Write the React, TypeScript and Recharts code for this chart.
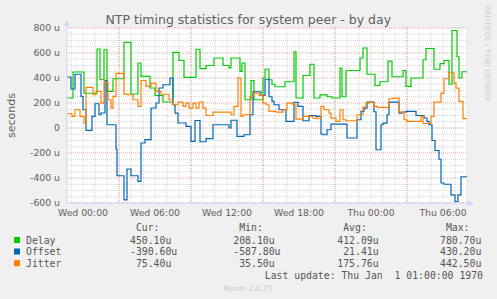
import React from "react"
import { CartesianGrid, Line, LineChart, XAxis, YAxis } from "recharts"

// time in minutes from Wed 00:00, values in microseconds
const delayTimes = [-80, -50, 5, 70, 85, 105, 120, 150, 205, 240, 275, 290, 335, 360, 400, 450, 480, 505, 565, 585, 615, 655, 700, 730, 740, 785, 795, 810, 840, 855, 900, 910, 930, 945, 960, 1010, 1055, 1065, 1100, 1135, 1155, 1185, 1220, 1245, 1285, 1295, 1315, 1385, 1400, 1420, 1460, 1485, 1525, 1545, 1600, 1615, 1640, 1700, 1715, 1755, 1785, 1805, 1830, 1845, 1870, 1880, 1895, 1920]
const delayValues = [240, 448, 278, 632, 386, 626, 293, 394, 685, 272, 520, 413, 320, 260, 208, 605, 540, 405, 630, 475, 500, 560, 500, 480, 560, 453, 520, 226, 380, 226, 400, 470, 386, 350, 330, 370, 610, 240, 420, 510, 240, 265, 250, 240, 480, 250, 460, 560, 640, 430, 340, 370, 535, 410, 460, 333, 400, 546, 636, 470, 515, 540, 350, 780, 570, 400, 450, 450]

const offsetTimes = [-80, -60, -40, -10, 0, 15, 45, 60, 80, 90, 110, 120, 165, 170, 205, 220, 240, 275, 290, 310, 340, 365, 380, 400, 435, 450, 460, 475, 515, 540, 560, 585, 615, 650, 730, 740, 770, 805, 835, 850, 890, 910, 930, 945, 955, 980, 1015, 1055, 1075, 1100, 1130, 1165, 1190, 1200, 1220, 1240, 1320, 1370, 1390, 1405, 1420, 1455, 1465, 1490, 1500, 1520, 1530, 1580, 1595, 1615, 1665, 1705, 1720, 1730, 1745, 1760, 1780, 1790, 1805, 1840, 1860, 1875, 1890, 1920]
const offsetValues = [408, 312, 430, 253, 146, -19, 93, 194, 106, 120, 380, 26, -168, -382, -575, -328, -382, -427, -120, -93, 160, 200, 320, 346, 400, 186, 119, 40, 13, -107, 60, -110, -85, 26, 0, 62, -67, -54, 106, 290, 260, 390, 250, 213, 186, 146, 53, 205, 173, 58, 100, 93, -48, -54, -14, 31, -80, 66, 133, 159, 207, 130, -174, 26, 39, 106, 207, 119, 127, 133, 100, 80, 53, 26, -100, -180, -250, -440, -450, -535, -588, -535, -390, -391]

const jitterTimes = [-80, -55, -40, -15, 5, 15, 50, 65, 90, 105, 125, 140, 150, 165, 205, 225, 250, 275, 290, 315, 340, 365, 390, 430, 450, 475, 500, 515, 530, 550, 565, 580, 600, 615, 650, 740, 755, 775, 790, 800, 835, 850, 880, 900, 915, 930, 965, 1000, 1020, 1050, 1065, 1100, 1150, 1170, 1190, 1205, 1230, 1240, 1265, 1285, 1300, 1315, 1370, 1400, 1415, 1430, 1455, 1470, 1530, 1550, 1580, 1605, 1620, 1690, 1700, 1740, 1755, 1790, 1805, 1830, 1855, 1865, 1880, 1900, 1920]
const jitterValues = [114, 93, 146, 93, 40, 325, 266, 293, 199, 367, 226, 159, 253, 437, 271, 266, 226, 173, 380, 333, 359, 293, 270, 226, 186, 207, 173, 199, 159, 199, 159, 207, 159, 100, 127, 106, 173, 400, 93, 106, 253, 279, 261, 199, 186, 133, 127, 146, 199, 186, 71, 93, 79, 74, 173, 146, 119, 79, 53, 146, 66, 58, 106, 167, 199, 207, 173, 165, 234, 239, 127, 66, 53, 93, 36, 93, 207, 279, 394, 442, 359, 319, 213, 75, 75]

const xTicks = [0, 360, 720, 1080, 1440, 1800]
const xTickLabels = ["Wed 00:00", "Wed 06:00", "Wed 12:00", "Wed 18:00", "Thu 00:00", "Thu 06:00"]
const yTicks = [-600, -400, -200, 0, 200, 400, 600, 800]

const seriesNames = ["Delay", "Offset", "Jitter"]
const seriesColors = ["#00CC00", "#0066B3", "#FF8000"]
const statCur = [450.1, -390.6, 75.4]
const statMin = [208.1, -587.8, 35.5]
const statAvg = [412.09, 21.41, 175.76]
const statMax = [780.7, 430.2, 442.5]

const minorX: number[] = []
for (let m = -60; m <= 1920; m += 60) minorX.push(m)
const majorX = [180, 540, 900, 1260, 1620]
const minorY: number[] = []
for (let v = -550; v < 800; v += 50) if (v % 200 !== 0) minorY.push(v)

const SANS = "DejaVu Sans, sans-serif"
const MONO = "DejaVu Sans Mono, monospace"
const FONT = "#606060"
const AXIS = "#CFD6F8"

const toSeries = (times: number[], values: number[]) => times.map((t, i) => ({ t, v: values[i] }))

const fmt = (v: number) => v.toFixed(2).padStart(6, " ") + "u"

export default function App() {
  const series = [
    toSeries(delayTimes, delayValues),
    toSeries(offsetTimes, offsetValues),
    toSeries(jitterTimes, jitterValues),
  ]
  const cols = [130, 233.3, 337.3, 440]
  const stats = [statCur, statMin, statAvg, statMax]
  const heads = ["Cur:", "Min:", "Avg:", "Max:"]
  const rowY = [243.5, 255, 266.7]

  return (
    <div style={{ position: "absolute", left: 0, top: 0, width: 497, height: 299, background: "#F0F0F0", overflow: "hidden" }}>
      <LineChart
        width={497}
        height={299}
        margin={{ top: 28, right: 30, bottom: 0, left: 0 }}
        style={{ position: "absolute", left: 0, top: 0 }}
      >
        <CartesianGrid fill="#FFFFFF" horizontalValues={minorY} verticalValues={minorX} stroke="#D4D4D4" strokeDasharray="1 1" />
        <CartesianGrid horizontalValues={yTicks} verticalValues={majorX} stroke="#EBA3A3" strokeDasharray="1 1" />
        <XAxis
          type="number"
          dataKey="t"
          domain={[-80, 1920]}
          ticks={xTicks}
          interval={0}
          allowDataOverflow
          tickFormatter={(t: number) => xTickLabels[xTicks.indexOf(t)]}
          height={96}
          axisLine={{ stroke: AXIS }}
          tickLine={false}
          tickSize={0}
          tickMargin={6}
          tick={{ fill: FONT, fontSize: 9.3, fontFamily: SANS }}
        />
        <YAxis
          type="number"
          domain={[-600, 800]}
          ticks={yTicks}
          interval={0}
          allowDataOverflow
          width={67}
          tickFormatter={(v: number) => (v === 0 ? "0" : `${v} u`)}
          axisLine={{ stroke: AXIS }}
          tickLine={false}
          tickSize={0}
          tickMargin={7}
          tick={{ fill: FONT, fontSize: 9.3, fontFamily: SANS }}
        />
        {series.map((d, i) => (
          <Line
            key={seriesNames[i]}
            data={d}
            dataKey="v"
            type="stepAfter"
            stroke={seriesColors[i]}
            strokeWidth={1.2}
            dot={false}
            activeDot={false}
            isAnimationActive={false}
          />
        ))}
      </LineChart>
      <svg width={497} height={299} style={{ position: "absolute", left: 0, top: 0, pointerEvents: "none" }}>
        <polygon points="64,26 69.5,26 66.7,20" fill={AXIS} />
        <polygon points="467.5,200.3 467.5,206.3 473.5,203.3" fill={AXIS} />
        <text x={248.3} y={23.5} textAnchor="middle" fontFamily={SANS} fontSize={12.5} fill={FONT}>
          NTP timing statistics for system peer - by day
        </text>
        <text x={15} y={115.5} transform="rotate(-90 15 115.5)" textAnchor="middle" fontFamily={SANS} fontSize={11} fill={FONT}>
          seconds
        </text>
        <text x={485} y={5} transform="rotate(90 485 5)" fontFamily={SANS} fontSize={7.5} fill="#CCCCCC">
          RRDTOOL / TOBI OETIKER
        </text>
        {heads.map((h, j) => (
          <text key={h} x={cols[j] + 5.9} y={231.2} fontFamily={MONO} fontSize={9.8} fill="#555555">
            {h}
          </text>
        ))}
        {seriesNames.map((name, i) => (
          <g key={name}>
            <rect x={14} y={rowY[i] - 6.5} width={6} height={6} fill={seriesColors[i]} />
            <text x={26} y={rowY[i]} fontFamily={MONO} fontSize={9.8} fill="#555555">
              {name}
            </text>
            {stats.map((s, j) => (
              <text key={j} x={cols[j]} y={rowY[i]} fontFamily={MONO} fontSize={9.8} fill="#555555" xmlSpace="preserve" style={{ whiteSpace: "pre" }}>
                {fmt(s[i])}
              </text>
            ))}
          </g>
        ))}
        <text x={483} y={279.2} textAnchor="end" fontFamily={MONO} fontSize={9.8} fill="#555555" xmlSpace="preserve" style={{ whiteSpace: "pre" }}>
          {"Last update: Thu Jan  1 01:00:00 1970"}
        </text>
        <text x={247.5} y={291} textAnchor="middle" fontFamily={SANS} fontSize={7.5} fill="#C8C8C8">
          Munin 2.0.75
        </text>
      </svg>
    </div>
  )
}
